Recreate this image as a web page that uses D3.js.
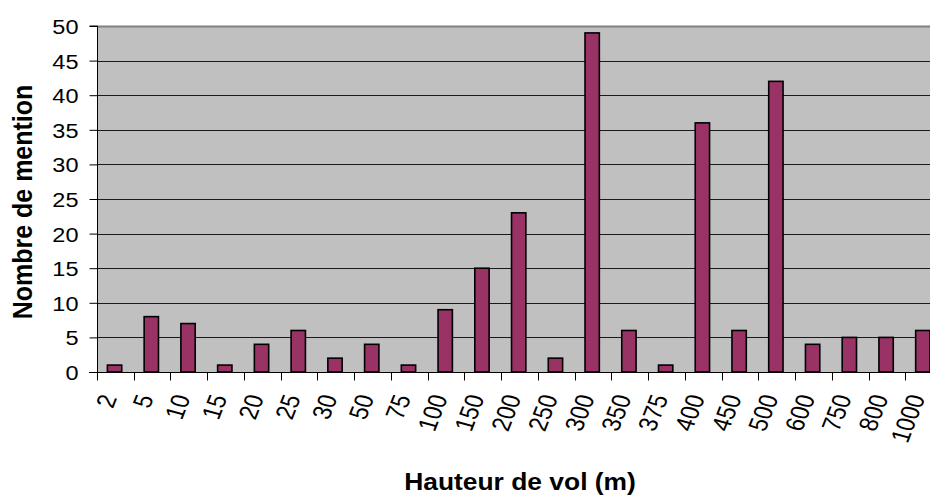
<!DOCTYPE html>
<html><head><meta charset="utf-8">
<script src="https://cdn.jsdelivr.net/npm/d3@7"></script>
<style>html,body{margin:0;padding:0;background:#fff;overflow:hidden}</style>
</head><body>
<svg id="c" width="930" height="495"></svg>
<script>
const categories = ["2","5","10","15","20","25","30","50","75","100","150","200","250","300","350","375","400","450","500","600","750","800","1000"];
const values = [1,8,7,1,4,6,2,4,1,9,15,23,2,49,6,1,36,6,42,4,5,5,6];
const yTicks = [0,5,10,15,20,25,30,35,40,45,50];
const xTitle = "Hauteur de vol (m)";
const yTitle = "Nombre de mention";

const svg = d3.select("#c");
const L = 97, R = 942, T = 26, B = 372;
const sx = 1.12;
const x = d3.scaleBand().domain(categories).range([L, R]).paddingInner(0).paddingOuter(0);
const y = d3.scaleLinear().domain([0, 50]).range([B, T]);

svg.append("rect").attr("x", L).attr("y", T).attr("width", R - L).attr("height", B - T).attr("fill", "#c0c0c0");

// gridlines
svg.append("g").selectAll("line").data(yTicks.filter(d => d > 0 && d < 50)).join("line")
  .attr("x1", L).attr("x2", R).attr("y1", d => Math.round(y(d)) + 0.5).attr("y2", d => Math.round(y(d)) + 0.5)
  .attr("stroke", "#1a1a1a").attr("stroke-width", 1);
// top border
svg.append("line").attr("x1", L).attr("x2", R).attr("y1", T + 0.5).attr("y2", T + 0.5)
  .attr("stroke", "#808080").attr("stroke-width", 2);

// bars
const bw = x.bandwidth() * 0.39;
svg.append("g").selectAll("rect").data(categories).join("rect")
  .attr("x", (d) => x(d) + x.bandwidth() / 2 - bw / 2 - 0.8)
  .attr("y", (d, i) => y(values[i]))
  .attr("width", bw)
  .attr("height", (d, i) => B - y(values[i]))
  .attr("fill", "#993366").attr("stroke", "#000").attr("stroke-width", 1.6);

// axes
const gy = svg.append("g").attr("transform", `translate(${L + 0.5},0)`)
  .call(d3.axisLeft(y).tickValues(yTicks).tickSize(8).tickFormat(d3.format("d")));
gy.select(".domain").attr("d", `M-8,${T}H0V${B + 8}`).attr("stroke", "#000");
gy.selectAll(".tick line").attr("stroke", "#000");
gy.selectAll(".tick text").remove();
gy.selectAll(".tick").append("text")
  .attr("transform", `translate(-19,0) scale(${sx},1)`)
  .attr("dy", "0.36em").attr("text-anchor", "end")
  .attr("font-family", "Liberation Sans, Arial, sans-serif").attr("font-size", 21).attr("fill", "#000")
  .text(d => d);

const gx = svg.append("g").attr("transform", `translate(0,${B + 0.5})`);
gx.append("line").attr("x1", L - 8).attr("x2", R).attr("stroke", "#000");
const bounds = categories.map(c => x(c)).concat([R]);
gx.selectAll("line.t").data(bounds).join("line").attr("class", "t")
  .attr("x1", d => Math.round(d) + 0.5).attr("x2", d => Math.round(d) + 0.5).attr("y1", 0).attr("y2", 8)
  .attr("stroke", "#000");
gx.selectAll("text").data(categories).join("text")
  .attr("transform", d => `translate(${x(d) + x.bandwidth() / 2 + 2},${25}) scale(1.2,1) rotate(-72)`)
  .attr("text-anchor", "end")
  .attr("font-family", "Liberation Sans, Arial, sans-serif").attr("font-size", 22).attr("fill", "#000")
  .text(d => d);

// titles
svg.append("text")
  .attr("transform", `translate(520,490) scale(1.1,1)`)
  .attr("text-anchor", "middle").attr("font-weight", "bold")
  .attr("font-family", "Liberation Sans, Arial, sans-serif").attr("font-size", 24).attr("fill", "#000")
  .text(xTitle);
svg.append("text")
  .attr("transform", `translate(32,202) scale(1.1,1) rotate(-90)`)
  .attr("text-anchor", "middle").attr("font-weight", "bold")
  .attr("font-family", "Liberation Sans, Arial, sans-serif").attr("font-size", 25).attr("fill", "#000")
  .text(yTitle);
</script>
</body></html>
